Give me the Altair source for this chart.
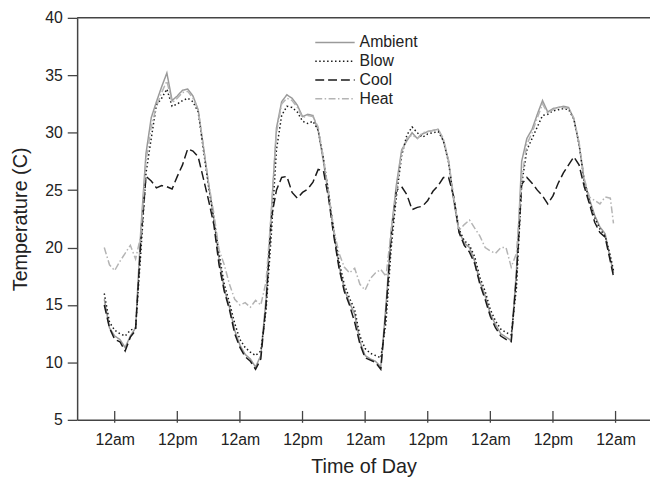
import altair as alt
import pandas as pd

# sample times in hours from the first midnight
hours = list(range(-2, 96)) + [95.6]

ambient = [15.5, 13, 12.3, 12, 11.3, 12.3, 13, 21.5, 28.2, 31.3, 32.7, 34,
           35.2, 32.8, 33.2, 33.7, 33.8, 33.2, 32, 28.8, 25.5, 22.5, 19, 16.4, 14.8, 12.8,
           11.5, 10.7, 10.3, 9.6, 10.6, 15.5, 23, 30.4, 32.7, 33.3, 33, 32.4, 31.4, 31.6,
           31.5, 30.2, 27.5, 24.5, 21.3, 18.4, 16.4, 15.2, 14.2, 11.8, 10.6, 10.3, 10.1, 9.6,
           15, 21.5, 25.5, 28.5, 29.3, 30, 29.5, 29.9, 30.1, 30.2, 30.3, 29.3, 27.5, 24,
           21.4, 20.4, 20, 18.8, 17, 15.8, 14.2, 13.3, 12.5, 12.2, 11.9, 18, 27.5, 29.5,
           30.3, 31.6, 32.8, 31.8, 32.1, 32.2, 32.3, 32.2, 31.2, 29, 25.8, 24.2, 22.8, 21.8,
           21.2, 19, 17.8]
blow = [16, 13.5, 12.8, 12.5, 12.3, 12.8, 13, 19.5, 26.5, 29.5, 32.4, 33,
        33.8, 32.3, 32.5, 32.8, 33, 32.7, 31.8, 28.5, 25.3, 22.5, 19.5, 16.8, 15.2, 13.4,
        12, 11.3, 10.9, 10.6, 11, 14.5, 21, 28.5, 31.5, 32.3, 32.2, 31.8, 31, 30.8,
        31, 30.2, 27.8, 24.8, 21.5, 18.8, 16.8, 15.6, 14.6, 12.3, 11.2, 10.8, 10.6, 10.4,
        13.5, 20, 24.5, 28, 29.8, 30.5, 30, 29.6, 29.9, 30, 30.1, 29.3, 27.4, 24.2,
        21.6, 20.6, 20.2, 19.2, 17.4, 16.2, 14.6, 13.6, 12.9, 12.6, 12.4, 16.5, 25.5, 28.5,
        29.5, 30.5, 31.5, 31.6, 31.9, 32, 32.1, 32, 31.2, 29, 25.8, 24, 22.6, 21.6,
        21, 19.3, 18]
cool = [15, 13, 12, 11.8, 11, 12.2, 12.8, 20.5, 26.2, 25.8, 25.2, 25.4,
        25.3, 25.1, 26.2, 27.2, 28.6, 28.4, 27.9, 26, 24.1, 22, 18.5, 16.2, 14.6, 12.5,
        11.3, 10.5, 10.1, 9.4, 10.3, 15, 22.5, 25, 26.1, 26.2, 24.8, 24.3, 24.8, 25.1,
        25.7, 26.8, 26.7, 24.3, 21, 18.2, 16.2, 15, 13.5, 11.6, 10.4, 10.2, 10, 9.4,
        14.5, 21, 25, 25.3, 24.6, 23.3, 23.5, 23.6, 24.1, 24.9, 25.4, 26.1, 26.1, 24.4,
        21.3, 20.2, 19.6, 18.6, 16.8, 15.5, 14, 13, 12.3, 12, 11.8, 17.5, 25.5, 26.1,
        25.6, 25, 24.5, 23.8, 24.5, 25.6, 26.5, 27.2, 27.9, 27.2, 25.3, 23.8, 22.2, 21.3,
        20.9, 18.8, 17.5]
heat = [20, 18.5, 18, 18.8, 19.5, 20.2, 19, 21, 27.5, 30.5, 32.3, 33.5,
        34.5, 32.6, 33, 33.5, 33.6, 33, 32, 28.8, 25.6, 23, 19.8, 18.5, 16.8, 15.5,
        15, 15.2, 14.8, 15.4, 15, 17, 23, 30, 32.5, 33, 32.8, 32.2, 31.3, 31.5,
        31.4, 30.5, 27.8, 24.8, 21.5, 19.5, 18.3, 17.8, 18.2, 16.8, 16.3, 17.3, 17.8, 18.1,
        17.5, 21.5, 25, 28.3, 29.5, 29.8, 29.5, 30, 30.1, 30.2, 30.3, 29.5, 27.6, 24.3,
        21.5, 22, 22.4, 21.7, 21, 20, 19.7, 19.5, 20, 20, 18.3, 19.5, 26, 29,
        30, 31.3, 32.5, 31.7, 32, 32.2, 32.2, 32.1, 31.3, 29.2, 26, 24.4, 24.1, 23.8,
        24.4, 24.3, 22.1]

series = ["Ambient", "Blow", "Cool", "Heat"]
colors = ["#9a9a9a", "#1a1a1a", "#1a1a1a", "#b4b4b4"]
dashes = [[1, 0], [1.5, 2.5], [9, 4], [7, 2.5, 1.5, 2.5]]

tick_hours = [0, 12, 24, 36, 48, 60, 72, 84, 96]
y_ticks = [5, 10, 15, 20, 25, 30, 35, 40]

rows = []
for name, vals in zip(series, [ambient, blow, cool, heat]):
    for h, v in zip(hours, vals):
        rows.append({"hour": h, "temp": v, "series": name})
df = pd.DataFrame(rows)

FONT = "Liberation Sans"
W, H = 580, 407

xscale = alt.Scale(domain=[-7.2, 102.6], nice=False, zero=False)
yscale = alt.Scale(domain=[5, 40], nice=False, zero=False)

x_axis = alt.Axis(values=tick_hours,
                  labelExpr="datum.value % 24 == 0 ? '12am' : '12pm'",
                  tickSize=0, labelPadding=12, titlePadding=9, grid=False)

legend = alt.Legend(
    title=None, orient="none", legendX=266, legendY=17,
    symbolType="M-4.7,0H1", symbolSize=196, symbolStrokeWidth=1.5,
    labelFontSize=16, labelFont=FONT, labelColor="#222",
    rowPadding=3, labelOffset=4, padding=0,
)

lines = alt.Chart(df).mark_line(strokeWidth=1.5).encode(
    x=alt.X("hour:Q", scale=xscale, title="Time of Day", axis=x_axis),
    y=alt.Y("temp:Q", scale=yscale, title="Temperature (C)",
            axis=alt.Axis(values=y_ticks, tickSize=10, labelPadding=5,
                          titlePadding=14, grid=False)),
    color=alt.Color("series:N", scale=alt.Scale(domain=series, range=colors),
                    legend=legend),
    strokeDash=alt.StrokeDash("series:N", scale=alt.Scale(domain=series, range=dashes),
                              legend=legend),
)

ticks = alt.Chart(pd.DataFrame({"hour": tick_hours})).mark_rule(
    color="#444", strokeWidth=1.3
).encode(
    x=alt.X("hour:Q", scale=xscale, title="Time of Day", axis=x_axis),
    y=alt.value(H - 9), y2=alt.value(H + 3),
)

top = alt.Chart(pd.DataFrame({"a": [0]})).mark_rule(
    color="#444", strokeWidth=1.5
).encode(x=alt.value(0), x2=alt.value(W), y=alt.value(0))

chart = alt.layer(lines, ticks, top).properties(
    width=W, height=H, autosize="none",
    padding={"left": 70, "top": 7, "right": 0, "bottom": 64},
).configure_view(stroke=None).configure_axis(
    domainColor="#444", domainWidth=1.5, tickColor="#444", tickWidth=1.3,
    labelColor="#222", titleColor="#222", labelFont=FONT, titleFont=FONT,
    labelFontSize=16, titleFontSize=20, titleFontWeight="normal",
)

chart.save("out.html", embed_options={"renderer": "svg", "actions": False})
